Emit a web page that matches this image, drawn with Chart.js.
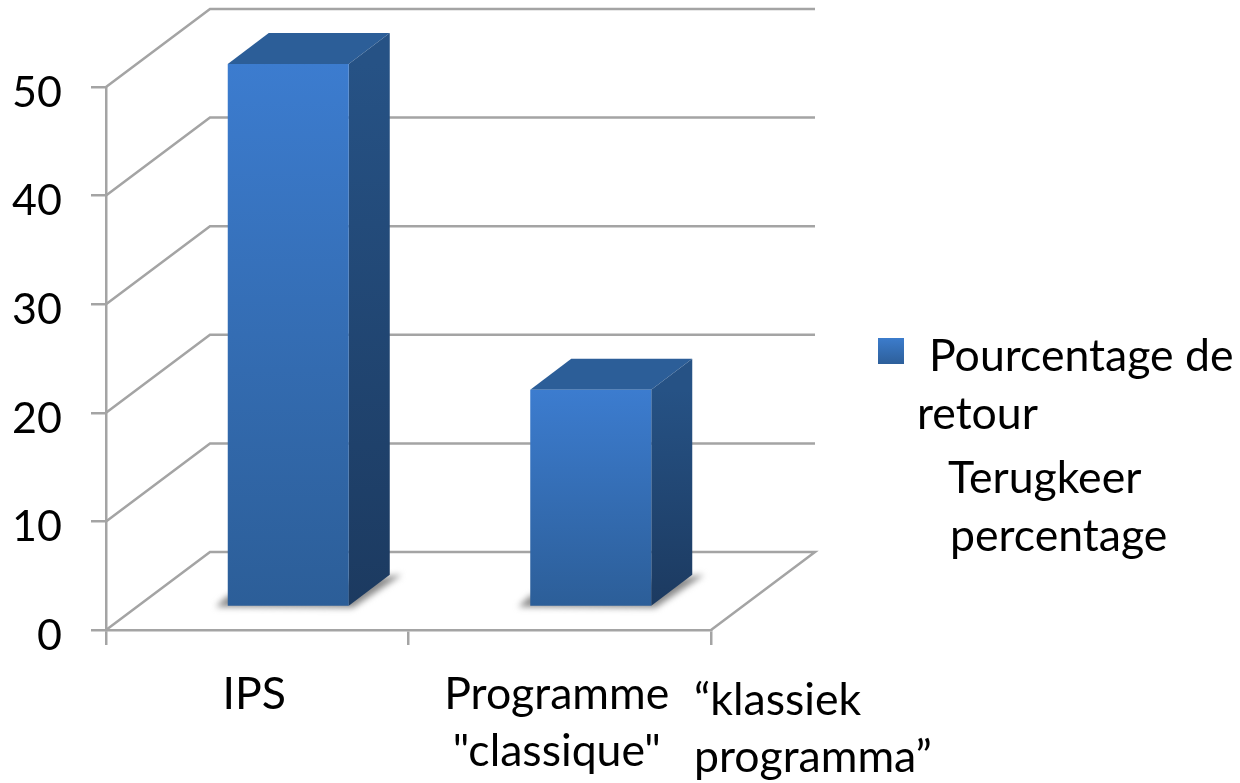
<!DOCTYPE html>
<html>
<head>
<meta charset="utf-8">
<title>Pourcentage de retour</title>
<script src="https://cdn.jsdelivr.net/npm/chart.js@4/dist/chart.umd.js"></script>
<style>
  html, body { margin: 0; padding: 0; background: #fff; }
  canvas { display: block; }
</style>
</head>
<body>
<canvas id="myChart" width="1240" height="783"></canvas>
<script>
const categories = ['IPS', ['Programme', '"classique"']];
const seriesName = 'Pourcentage de retour';
const seriesValues = [50, 20];
const yTicks = [0, 10, 20, 30, 40, 50];
const legendLines = ['Pourcentage de', 'retour'];
const legendDutch = ['Terugkeer', 'percentage'];
const categoryDutch = ['\u201Cklassiek', 'programma\u201D'];

const fontName = 'Lato';
const lineColor = '#a4a4a4';

// offsets of the 3d look
const wallX = 104, wallY = -78;   // front plane -> back wall
const barX = 31, barY = -23;      // bars stand half way on the floor
const sideX = 41, sideY = -31;    // depth of a bar

function vGradient(ctx, y0, y1, top, bottom) {
    const g = ctx.createLinearGradient(0, y0, 0, y1);
    g.addColorStop(0, top);
    g.addColorStop(1, bottom);
    return g;
}

// back wall, floor and the little diagonals
const wallPlugin = {
    id: 'wall',
    beforeDatasetsDraw(chart) {
        const { ctx, chartArea, scales } = chart;
        ctx.save();
        ctx.strokeStyle = lineColor;
        ctx.lineWidth = 2.5;
        yTicks.forEach(v => {
            const y = scales.y.getPixelForValue(v);
            ctx.beginPath();
            ctx.moveTo(chartArea.left, y);
            ctx.lineTo(chartArea.left + wallX, y + wallY);
            ctx.lineTo(chartArea.right + wallX, y + wallY);
            if (v === 0) ctx.lineTo(chartArea.right, y);
            ctx.stroke();
        });
        ctx.restore();
    }
};

// moves the bars back on the floor and adds top, side and shadow
const box3dPlugin = {
    id: 'box3d',
    beforeDatasetDraw(chart, args) {
        const { ctx } = chart;
        ctx.save();
        ctx.translate(barX, barY);
        args.meta.data.forEach(bar => {
            const left = bar.x - bar.width / 2;
            const right = bar.x + bar.width / 2;

            // shadow on the floor
            ctx.save();
            ctx.filter = 'blur(3px)';
            ctx.fillStyle = '#8a8a8a';
            ctx.beginPath();
            ctx.moveTo(left - 12, bar.base + 1);
            ctx.lineTo(left, bar.base - 10);
            ctx.lineTo(right + sideX + 12, bar.base + sideY);
            ctx.lineTo(right + 4, bar.base + 2);
            ctx.closePath();
            ctx.fill();
            ctx.restore();

            // top
            ctx.fillStyle = '#2c5e98';
            ctx.beginPath();
            ctx.moveTo(left, bar.y);
            ctx.lineTo(left + sideX, bar.y + sideY);
            ctx.lineTo(right + sideX, bar.y + sideY);
            ctx.lineTo(right, bar.y);
            ctx.closePath();
            ctx.fill();

            // side
            ctx.fillStyle = vGradient(ctx, bar.y, bar.base, '#265285', '#1c3a60');
            ctx.beginPath();
            ctx.moveTo(right, bar.y);
            ctx.lineTo(right + sideX, bar.y + sideY);
            ctx.lineTo(right + sideX, bar.base + sideY);
            ctx.lineTo(right, bar.base);
            ctx.closePath();
            ctx.fill();
        });
    },
    afterDatasetDraw(chart) {
        chart.ctx.restore();
    }
};

// legend is hand made because it wraps, plus the dutch notes on the slide
const notesPlugin = {
    id: 'notes',
    afterDraw(chart) {
        const { ctx } = chart;
        ctx.save();
        ctx.fillStyle = vGradient(ctx, 338, 364, '#3c7ccc', '#2d5f9a');
        ctx.fillRect(878, 338, 26, 26);

        ctx.fillStyle = '#000';
        ctx.font = '44.6px ' + fontName;
        ctx.textBaseline = 'middle';
        ctx.fillText(legendLines[0], 929, 357);
        ctx.fillText(legendLines[1], 917, 415);
        ctx.fillText(legendDutch[0], 948, 479);
        ctx.fillText(legendDutch[1], 950, 537);
        ctx.fillText(categoryDutch[0], 694, 701);
        ctx.fillText(categoryDutch[1], 694, 758);
        ctx.restore();
    }
};

new Chart(document.getElementById('myChart'), {
    type: 'bar',
    data: {
        labels: categories,
        datasets: [{
            label: seriesName,
            data: seriesValues,
            barPercentage: 0.4,
            categoryPercentage: 1,
            borderWidth: 0,
            backgroundColor: c => {
                const y = c.chart.scales.y;
                const v = c.parsed ? c.parsed.y : NaN;
                if (!y || !Number.isFinite(y.getPixelForValue(v)) || !Number.isFinite(y.getPixelForValue(0))) return '#3c7ccc';
                return vGradient(c.chart.ctx, y.getPixelForValue(v), y.getPixelForValue(0), '#3c7ccf', '#2c5e98');
            }
        }]
    },
    plugins: [wallPlugin, box3dPlugin, notesPlugin],
    options: {
        responsive: false,
        animation: false,
        layout: { padding: { left: 0, top: 87, right: 529, bottom: 0 } },
        plugins: { legend: { display: false }, tooltip: { enabled: false } },
        scales: {
            x: {
                afterFit: s => { s.height = 153; },
                grid: { offset: true, drawOnChartArea: false, color: lineColor, lineWidth: 2.5, tickLength: 15 },
                border: { color: lineColor, width: 2.5 },
                ticks: { color: '#000', font: { family: fontName, size: 44.6, lineHeight: 1.28 }, padding: 21, labelOffset: -3, maxRotation: 0 }
            },
            y: {
                min: 0,
                max: 50,
                afterFit: s => { s.width = 106; },
                afterBuildTicks: s => { s.ticks = yTicks.map(v => ({ value: v })); },
                grid: { drawOnChartArea: false, color: lineColor, lineWidth: 2.5, tickLength: 15 },
                border: { color: lineColor, width: 2.5 },
                ticks: { color: '#000', font: { family: fontName, size: 43 }, padding: 29, labelOffset: 6 }
            }
        }
    }
});
</script>
</body>
</html>
